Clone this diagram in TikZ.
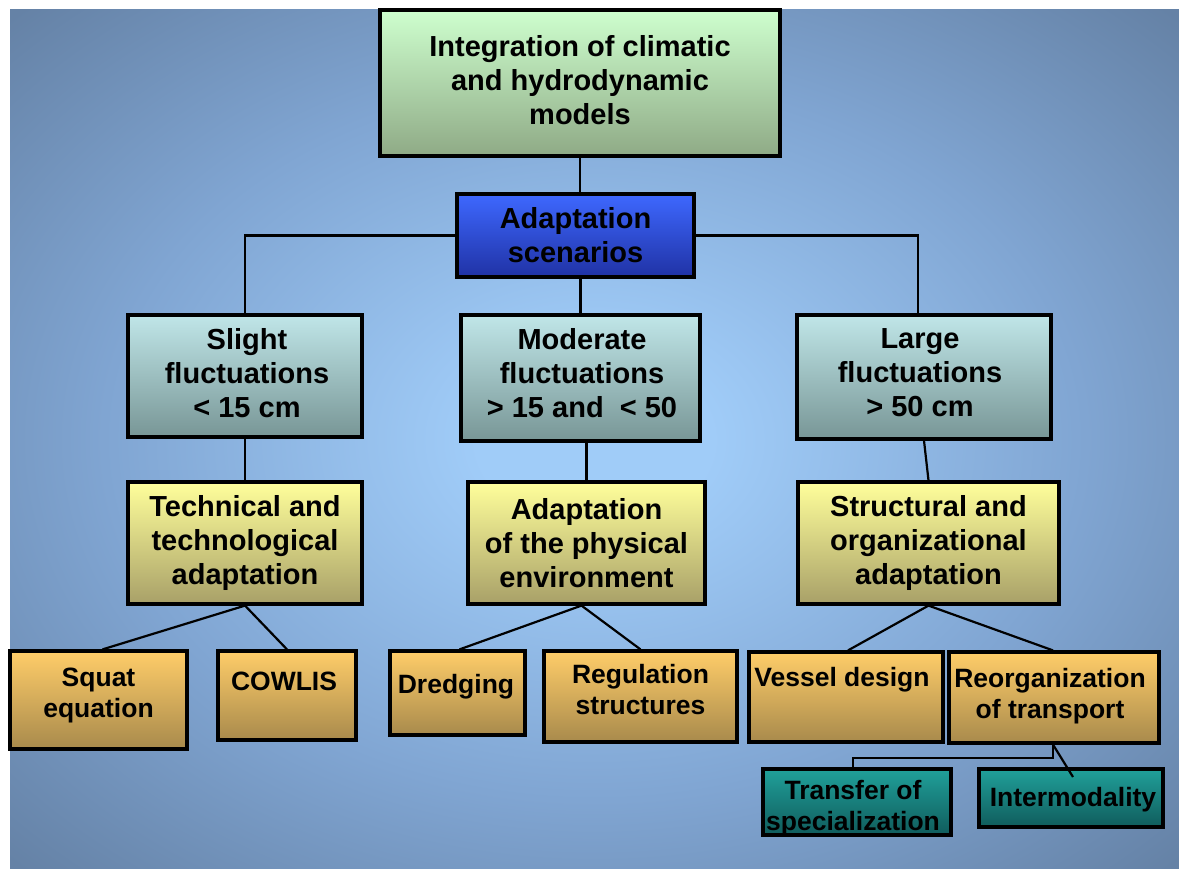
\documentclass[tikz,border=0pt]{standalone}
\usepackage{fontspec}
\setmainfont{Liberation Sans}
\definecolor{bgC}{RGB}{160,204,248}
\definecolor{bgM}{RGB}{128,165,210}
\definecolor{bgE}{RGB}{101,130,166}
\definecolor{gTop}{RGB}{206,255,206}
\definecolor{gBot}{RGB}{143,170,134}
\definecolor{bTop}{RGB}{62,104,255}
\definecolor{bBot}{RGB}{32,50,165}
\definecolor{fTop}{RGB}{192,230,232}
\definecolor{fBot}{RGB}{120,150,150}
\definecolor{yTop}{RGB}{255,255,155}
\definecolor{yBot}{RGB}{168,160,104}
\definecolor{oTop}{RGB}{255,205,105}
\definecolor{oBot}{RGB}{168,138,76}
\definecolor{tTop}{RGB}{32,160,154}
\definecolor{tBot}{RGB}{16,92,92}
\pgfdeclareradialshading{bgshade}{\pgfpoint{0bp}{0bp}}{color(0bp)=(bgC); color(5bp)=(bgC); color(21bp)=(bgM); color(35bp)=(bgE); color(50bp)=(bgE)}
\tikzset{
  box/.style={draw=black, line width=3.2pt, inner sep=0pt, rectangle},
  big/.style={font=\bfseries\fontsize{29}{34}\selectfont, align=center, text=black},
  small/.style={font=\bfseries\fontsize{26.5}{31}\selectfont, align=center, text=black, inner sep=0pt},
  link/.style={draw=black, line width=2.2pt},
  greenbox/.style={box, top color=gTop, bottom color=gBot},
  bluebox/.style={box, top color=bTop, bottom color=bBot},
  flucbox/.style={box, top color=fTop, bottom color=fBot},
  yellowbox/.style={box, top color=yTop, bottom color=yBot},
  orangebox/.style={box, top color=oTop, bottom color=oBot},
  tealbox/.style={box, top color=tTop, bottom color=tBot},
}
\begin{document}
\begin{tikzpicture}[x=1pt,y=-1pt]
\useasboundingbox (0,0) rectangle (1179,869);
\fill[white] (0,0) rectangle (1179,869);
\shade[shading=bgshade] (10,10) rectangle (1179,869);

% level 0
\node[greenbox, big, minimum width=400pt, minimum height=146pt] (top) at (580,83) {};
\node[big, inner sep=0pt] (top-t) at (580,80) {Integration of climatic\\and hydrodynamic\\models};
\node[bluebox, big, minimum width=237pt, minimum height=83pt] (scen) at (575.5,235.5) {Adaptation\\scenarios};

% fluctuations
\node[flucbox, minimum width=234pt, minimum height=122pt] (slight) at (245,376) {};
\node[big, inner sep=0pt] (slight-t) at (247,373) {Slight\\fluctuations\\< 15 cm};
\node[flucbox, minimum width=239pt, minimum height=126pt] (moderate) at (580.5,378) {};
\node[big, inner sep=0pt] (moderate-t) at (582,373) {Moderate\\fluctuations\\> 15 and\ \ < 50};
\node[flucbox, minimum width=254pt, minimum height=124pt] (large) at (924,377) {};
\node[big, inner sep=0pt] (large-t) at (920,373) {Large\\fluctuations\\> 50 cm};

% adaptation types
\node[yellowbox, big, minimum width=234pt, minimum height=122pt] (tech) at (245,543) {Technical and\\technological\\adaptation};
\node[yellowbox, big, minimum width=237pt, minimum height=122pt] (phys) at (586.5,543) {Adaptation\\of the physical\\environment};
\node[yellowbox, big, minimum width=261pt, minimum height=122pt] (struct) at (928.5,543) {Structural and\\organizational\\adaptation};

% measures
\node[orangebox, minimum width=177pt, minimum height=98pt] (squat) at (98.5,700) {};
\node[small] (squat-t) at (98.5,695) {Squat\\equation};
\node[orangebox, minimum width=138pt, minimum height=89pt] (cowlis) at (287,695.5) {};
\node[small] (cowlis-t) at (284,681) {COWLIS};
\node[orangebox, minimum width=135pt, minimum height=84pt] (dredg) at (457.5,693) {};
\node[small] (dredg-t) at (456,687) {Dredging};
\node[orangebox, minimum width=193pt, minimum height=91pt] (reg) at (640.5,696.5) {};
\node[small] (reg-t) at (640.5,690) {Regulation\\structures};
\node[orangebox, minimum width=194pt, minimum height=90pt] (vessel) at (846,697) {};
\node[small] (vessel-t) at (842,680) {Vessel design};
\node[orangebox, minimum width=210pt, minimum height=91pt] (reorg) at (1054,697.5) {};
\node[small] (reorg-t) at (1050,696) {Reorganization\\of transport};

% transport sub-measures
\node[tealbox, minimum width=188pt, minimum height=66pt] (transfer) at (857,802) {};
\node[small] (transfer-t) at (853,808) {Transfer of\\specialization};
\node[tealbox, minimum width=184pt, minimum height=58pt] (inter) at (1071,798) {};
\node[small] (inter-t) at (1073,800) {Intermodality};

% connectors
\draw[link] (top.south) -- (top.south |- scen.north);
\draw[link] (scen.west) -| (slight.north);
\draw[link] (scen.east) -| ([xshift=-6pt]large.north);
\draw[link] (moderate.north) -- (moderate.north |- scen.south);
\draw[link] (slight.south) -- (tech.north);
\draw[link] (phys.north) -- (phys.north |- moderate.south);
\draw[link] (large.south) -- (struct.north);
\draw[link] (tech.south) -- ([xshift=4pt]squat.north);
\draw[link] (tech.south) -- (cowlis.north);
\draw[link] ([xshift=-5pt]phys.south) -- ([xshift=2pt]dredg.north);
\draw[link] ([xshift=-5pt]phys.south) -- (reg.north);
\draw[link] (struct.south) -- ([xshift=2pt]vessel.north);
\draw[link] (struct.south) -- ([xshift=-1pt]reorg.north);
\draw[link] ([xshift=-1pt]reorg.south) -- ++(0,13) -| ([xshift=-4pt]transfer.north);
\coordinate (im-end) at (1073,777);
\draw[link] ([xshift=-1pt]reorg.south) -- (im-end);
\end{tikzpicture}
\end{document}
